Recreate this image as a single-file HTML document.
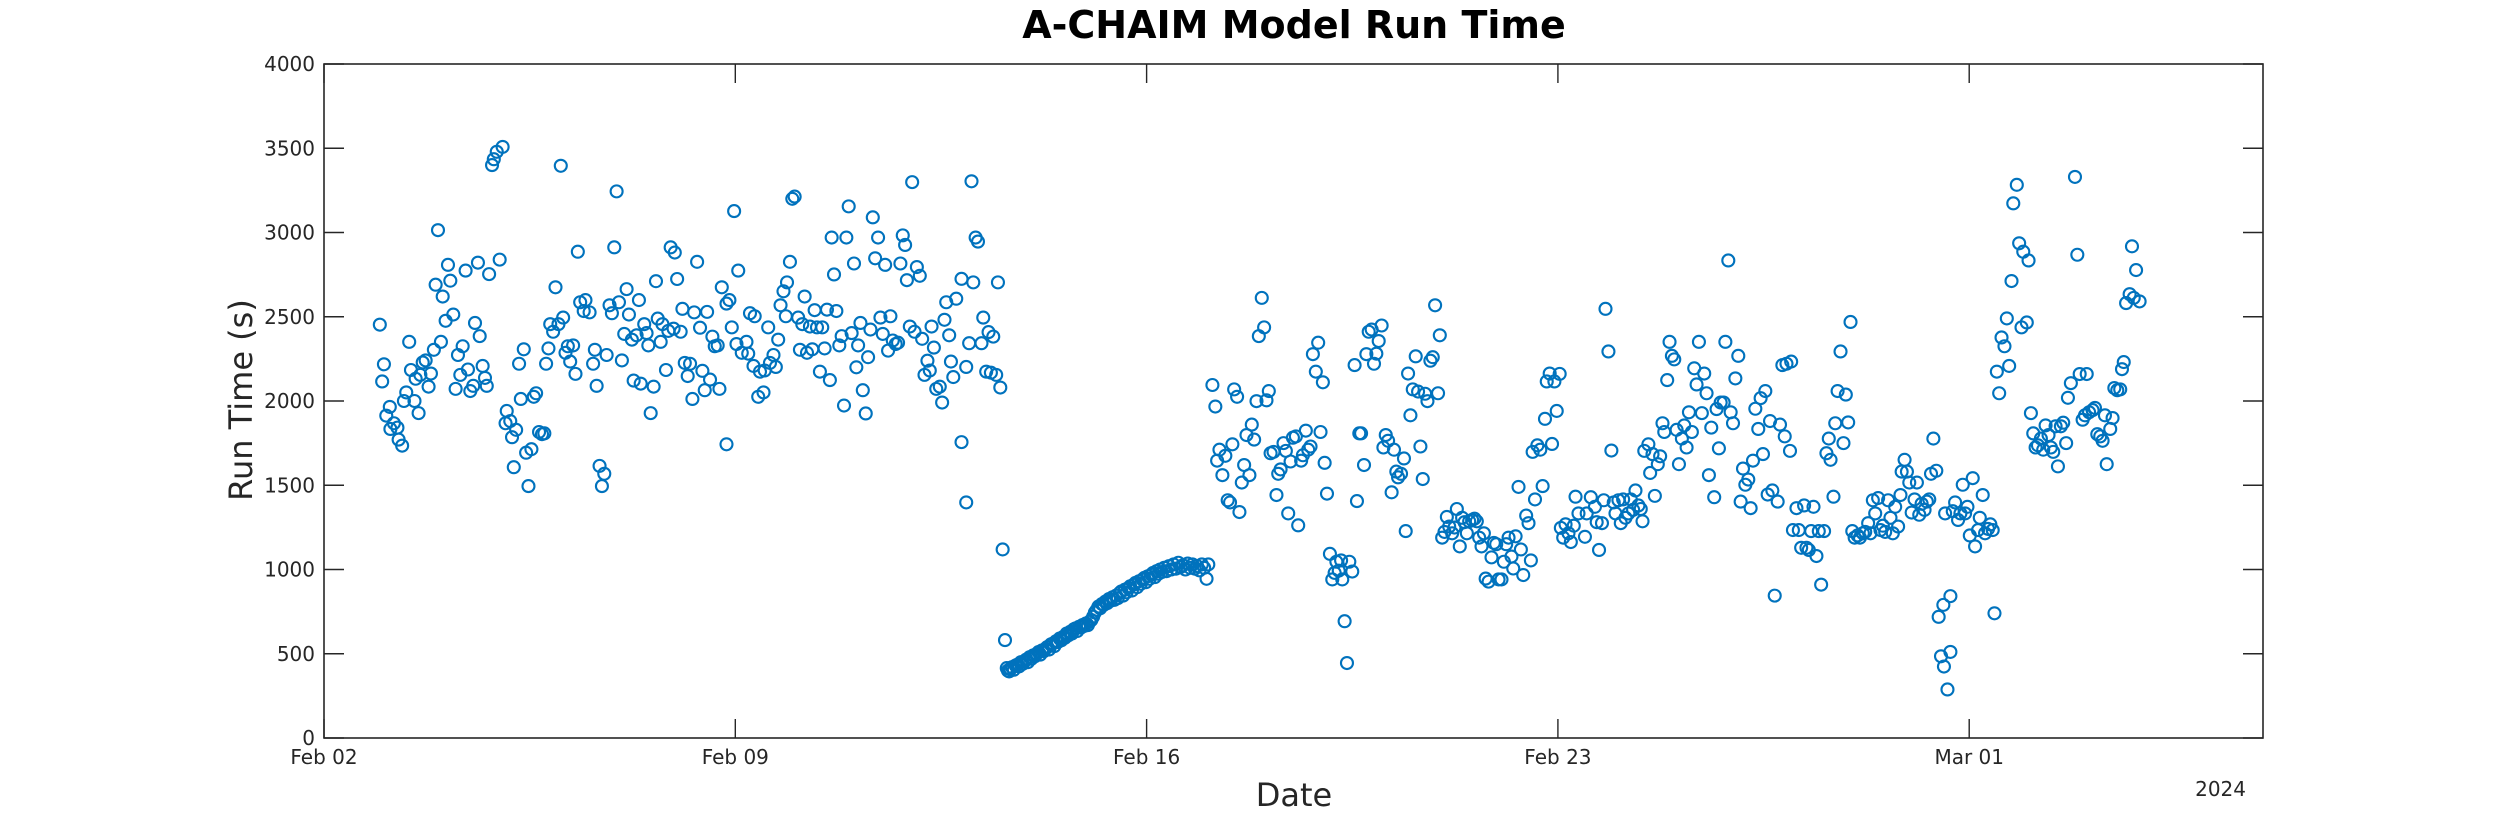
<!DOCTYPE html>
<html><head><meta charset="utf-8"><title>A-CHAIM Model Run Time</title>
<style>
html,body{margin:0;padding:0;background:#fff;}
svg{display:block;font-family:"DejaVu Sans","Liberation Sans",sans-serif;}
</style></head>
<body>
<svg id="chart" width="2500" height="833" viewBox="0 0 2500 833" xmlns="http://www.w3.org/2000/svg">
<rect x="0" y="0" width="2500" height="833" fill="#fff"/>
<text x="1294" y="38" text-anchor="middle" font-size="38" font-weight="bold" fill="#000">A-CHAIM Model Run Time</text>
<g id="axes"></g>
<g id="marks"></g>
<text x="1294" y="806" text-anchor="middle" font-size="32" fill="#262626">Date</text>
<text x="2246" y="796" text-anchor="end" font-size="20" fill="#262626">2024</text>
<text transform="translate(252,400) rotate(-90)" text-anchor="middle" font-size="32" fill="#262626">Run Time (s)</text>
</svg>
<script>
// x values are days since Feb 02 2024; y values are run time in seconds
const xTickDays = [0, 7, 14, 21, 28];
const xTickLabels = ["Feb 02", "Feb 09", "Feb 16", "Feb 23", "Mar 01"];
const yTickValues = [0, 500, 1000, 1500, 2000, 2500, 3000, 3500, 4000];
const yTickLabels = ["0", "500", "1000", "1500", "2000", "2500", "3000", "3500", "4000"];

const clusterA = [[0.95,2453],[1.02,2218],[0.99,2116],[1.12,1965],[1.06,1913],[1.19,1868],[1.13,1834],[1.25,1842],[1.27,1771],[1.33,1735],[1.36,2000],[1.40,2051],[1.45,2351],[1.48,2184],[1.54,2000],[1.61,1928],[1.56,2132],[1.64,2155],[1.68,2229],[1.73,2241],[1.82,2163],[1.78,2085],[1.87,2304],[1.94,3014],[1.90,2690],[1.99,2351],[2.02,2620],[2.07,2476],[2.11,2808],[2.15,2714],[2.20,2513],[2.24,2072],[2.28,2273],[2.32,2155],[2.36,2325],[2.41,2774],[2.45,2187],[2.49,2059],[2.54,2090],[2.57,2463],[2.62,2821],[2.65,2385],[2.70,2208],[2.74,2137],[2.77,2090],[2.81,2753],[2.86,3400],[2.89,3435],[2.94,3479],[3.04,3508],[2.99,2839],[3.09,1868],[3.11,1941],[3.17,1881],[3.20,1785],[3.27,1829],[3.23,1607],[3.32,2221],[3.35,2012],[3.40,2307],[3.44,1693],[3.48,1495],[3.53,1714],[3.57,2025],[3.61,2046],[3.66,1816],[3.71,1803],[3.75,1808],[3.78,2221],[3.82,2312],[3.85,2456],[3.90,2411],[3.94,2675],[3.99,2456],[4.03,3396],[4.07,2495],[4.11,2286],[4.15,2325],[4.19,2234],[4.24,2330],[4.28,2161],[4.32,2886],[4.36,2586],[4.42,2534],[4.45,2599],[4.52,2526],[4.58,2221],[4.61,2304],[4.64,2090],[4.69,1615],[4.77,1568],[4.73,1495],[4.81,2273],[4.86,2568],[4.90,2521],[4.94,2912],[4.98,3244],[5.02,2586],[5.07,2241],[5.11,2398],[5.15,2664],[5.19,2513],[5.24,2364],[5.27,2121],[5.32,2390],[5.36,2599],[5.39,2103],[5.45,2456],[5.49,2403],[5.52,2330],[5.56,1928],[5.61,2085],[5.65,2711],[5.68,2489],[5.73,2351],[5.76,2456],[5.82,2184],[5.86,2416],[5.90,2912],[5.95,2429],[5.97,2881],[6.01,2724],[6.07,2411],[6.10,2547],[6.14,2226],[6.19,2148],[6.23,2221],[6.27,2012],[6.30,2526],[6.35,2826],[6.40,2435],[6.44,2179],[6.48,2064],[6.52,2529],[6.57,2127],[6.61,2382],[6.65,2325],[6.70,2330],[6.73,2072],[6.77,2675],[6.85,1743],[6.85,2578],[6.90,2599],[6.94,2437],[6.98,3127],[7.02,2338],[7.05,2774],[7.11,2286]];

const clusterB = [[7.19,2351],[7.22,2281],[7.25,2521],[7.33,2503],[7.31,2208],[7.39,2025],[7.48,2051],[7.42,2174],[7.50,2181],[7.59,2226],[7.65,2273],[7.69,2202],[7.56,2437],[7.73,2364],[7.77,2568],[7.82,2651],[7.86,2503],[7.88,2704],[7.93,2826],[7.97,3200],[8.01,3213],[8.07,2495],[8.10,2304],[8.14,2456],[8.18,2620],[8.22,2286],[8.27,2442],[8.31,2307],[8.35,2539],[8.39,2437],[8.44,2174],[8.48,2437],[8.52,2312],[8.56,2542],[8.61,2124],[8.64,2970],[8.68,2751],[8.72,2534],[8.77,2330],[8.81,2385],[8.85,1973],[8.89,2970],[8.93,3155],[8.98,2403],[9.02,2816],[9.06,2200],[9.09,2330],[9.13,2463],[9.17,2064],[9.22,1926],[9.26,2260],[9.30,2424],[9.34,3090],[9.38,2847],[9.43,2970],[9.47,2495],[9.51,2398],[9.55,2808],[9.60,2299],[9.64,2503],[9.68,2359],[9.73,2338],[9.77,2346],[9.81,2816],[9.85,2983],[9.89,2926],[9.92,2717],[9.97,2442],[10.01,3299],[10.05,2411],[10.09,2795],[10.14,2743],[10.18,2369],[10.22,2155],[10.27,2239],[10.31,2181],[10.34,2442],[10.38,2317],[10.42,2072],[10.48,2085],[10.52,1991],[10.56,2482],[10.59,2586],[10.64,2390],[10.67,2234],[10.71,2142],[10.76,2607],[10.85,2725],[10.85,1756],[10.93,1398],[10.93,2202],[10.98,2343],[11.02,3304],[11.05,2704],[11.09,2970],[11.13,2946],[11.19,2343],[11.22,2495],[11.27,2174],[11.31,2409],[11.35,2168],[11.39,2382],[11.44,2155],[11.47,2704],[11.51,2080],[11.55,1119],[11.59,581]];

const rampSeries = [[11.62,415],[11.64,400],[11.66,395],[11.68,410],[11.71,420],[11.74,405],[11.77,430],[11.80,435],[11.83,425],[11.86,450],[11.89,440],[11.92,455],[11.95,465],[11.98,450],[12.01,480],[12.04,470],[12.07,490],[12.10,485],[12.13,500],[12.16,510],[12.19,495],[12.22,520],[12.25,515],[12.28,530],[12.31,540],[12.34,525],[12.37,555],[12.40,560],[12.43,545],[12.46,575],[12.49,570],[12.52,590],[12.55,580],[12.58,600],[12.61,595],[12.64,620],[12.67,610],[12.70,630],[12.73,620],[12.76,645],[12.79,650],[12.82,635],[12.85,660],[12.88,655],[12.91,670],[12.94,665],[12.97,680],[13.00,670],[13.03,690],[13.06,700],[13.09,720],[13.12,745],[13.15,760],[13.18,780],[13.21,770],[13.24,795],[13.27,790],[13.30,810],[13.33,800],[13.36,825],[13.39,815],[13.42,835],[13.45,820],[13.48,845],[13.51,830],[13.54,860],[13.57,870],[13.60,845],[13.63,880],[13.66,865],[13.69,890],[13.72,900],[13.75,875],[13.78,910],[13.81,920],[13.84,895],[13.87,930],[13.90,915],[13.93,940],[13.96,950],[13.99,925],[14.02,960],[14.05,945],[14.08,970],[14.11,980],[14.14,955],[14.17,990],[14.20,975],[14.23,1000],[14.26,985],[14.30,1010],[14.34,990],[14.38,1020],[14.42,1000],[14.46,1030],[14.50,1005],[14.54,1040],[14.58,1015],[14.62,1025],[14.66,1000],[14.70,1035],[14.74,1010],[14.78,1030],[14.82,1005],[14.86,1020],[14.90,995],[14.94,1030],[14.98,1010],[15.02,945],[15.05,1030]];

const clusterC = [[15.12,2095],[15.17,1967],[15.20,1646],[15.24,1711],[15.29,1560],[15.34,1675],[15.38,1411],[15.42,1398],[15.46,1743],[15.49,2069],[15.54,2025],[15.58,1341],[15.62,1516],[15.66,1620],[15.70,1798],[15.75,1560],[15.79,1860],[15.83,1771],[15.87,1999],[15.91,2385],[15.96,2612],[16.00,2437],[16.04,2004],[16.08,2059],[16.11,1690],[16.16,1698],[16.21,1442],[16.24,1568],[16.28,1594],[16.33,1750],[16.37,1704],[16.41,1333],[16.45,1641],[16.49,1782],[16.54,1790],[16.58,1262],[16.63,1646],[16.66,1678],[16.71,1824],[16.75,1711],[16.79,1730],[16.83,2278],[16.88,2174],[16.92,2346],[16.96,1816],[17.00,2111],[17.03,1633],[17.07,1450],[17.12,1093],[17.16,941],[17.20,980],[17.23,1046],[17.27,993],[17.31,1054],[17.33,941],[17.37,693],[17.41,445],[17.45,1046],[17.50,988],[17.54,2213],[17.58,1406],[17.62,1808],[17.65,1808],[17.70,1620],[17.74,2278],[17.78,2411],[17.83,2424],[17.87,2221],[17.91,2281],[17.95,2356],[18.00,2448],[18.03,1724],[18.07,1798],[18.11,1764],[18.17,1458],[18.21,1711],[18.25,1581],[18.28,1547],[18.33,1568],[18.38,1659],[18.41,1228],[18.45,2163],[18.49,1915],[18.53,2069],[18.58,2265],[18.62,2056],[18.66,1730],[18.70,1537],[18.74,2043],[18.78,1999],[18.83,2239],[18.87,2260],[18.91,2568],[18.96,2046],[18.99,2390],[19.03,1189],[19.07,1223],[19.11,1312],[19.15,1255],[19.20,1215],[19.24,1249],[19.28,1359],[19.33,1137],[19.37,1307],[19.41,1281],[19.45,1215],[19.49,1286],[19.54,1294],[19.58,1302],[19.62,1286],[19.66,1189],[19.70,1137],[19.74,1215],[19.77,946],[19.82,928],[19.87,1072],[19.91,1158],[19.95,1150],[19.99,941],[20.04,941],[20.08,1046],[20.12,1150],[20.16,1189],[20.21,1077],[20.24,1006],[20.28,1197],[20.33,1490],[20.37,1119],[20.41,967],[20.46,1320],[20.50,1275],[20.54,1054],[20.57,1698],[20.61,1416],[20.65,1737],[20.70,1711],[20.74,1495],[20.78,1894],[20.81,2116],[20.86,2163],[20.90,1745],[20.94,2116],[20.98,1941],[21.03,2161],[21.05,1247],[21.09,1189],[21.13,1268],[21.18,1215],[21.22,1163],[21.27,1260],[21.30,1432],[21.35,1333]];

const clusterD = [[21.46,1194],[21.49,1333],[21.56,1429],[21.63,1372],[21.66,1281],[21.70,1116],[21.75,1275],[21.78,1411],[21.81,2547],[21.86,2294],[21.91,1706],[21.95,1398],[21.98,1333],[22.03,1411],[22.07,1275],[22.11,1416],[22.15,1307],[22.20,1333],[22.24,1416],[22.28,1354],[22.32,1469],[22.37,1380],[22.41,1359],[22.44,1286],[22.47,1704],[22.54,1743],[22.57,1573],[22.61,1685],[22.65,1437],[22.70,1625],[22.74,1672],[22.78,1868],[22.81,1816],[22.86,2124],[22.90,2351],[22.94,2268],[22.98,2247],[23.02,1829],[23.06,1625],[23.11,1777],[23.15,1855],[23.19,1724],[23.23,1933],[23.28,1816],[23.32,2194],[23.36,2098],[23.40,2351],[23.45,1928],[23.49,2163],[23.53,2046],[23.57,1560],[23.61,1842],[23.66,1429],[23.70,1952],[23.74,1719],[23.77,1991],[23.82,1991],[23.85,2351],[23.90,2834],[23.94,1933],[23.98,1868],[24.02,2134],[24.07,2268],[24.11,1403],[24.15,1599],[24.19,1503],[24.24,1534],[24.28,1364],[24.32,1646],[24.36,1954],[24.41,1834],[24.45,2017],[24.49,1685],[24.53,2059],[24.57,1445],[24.61,1881],[24.65,1469],[24.69,845],[24.74,1403],[24.78,1860],[24.82,2213],[24.86,1790],[24.89,2221],[24.95,1704],[24.97,2234],[25.00,1234],[25.06,1364],[25.10,1234],[25.14,1129],[25.19,1380],[25.23,1129],[25.27,1116],[25.31,1228],[25.35,1372],[25.40,1080],[25.44,1228],[25.48,910],[25.53,1228],[25.57,1690],[25.61,1777],[25.64,1651],[25.69,1432],[25.72,1868],[25.76,2059],[25.81,2294],[25.86,1750],[25.90,2038],[25.94,1873],[25.98,2469],[26.01,1228],[26.05,1189],[26.10,1202],[26.14,1189],[26.19,1215],[26.23,1223],[26.28,1275],[26.32,1215],[26.36,1411],[26.40,1333],[26.45,1424],[26.49,1234],[26.53,1260],[26.57,1223],[26.62,1411],[26.66,1307],[26.70,1215],[26.74,1372],[26.79,1255],[26.83,1442],[26.85,1581],[26.90,1651],[26.94,1581],[26.98,1516],[27.02,1338],[27.07,1416],[27.11,1516],[27.15,1325],[27.19,1390],[27.24,1354],[27.28,1403],[27.32,1416],[27.35,1568],[27.39,1777],[27.44,1586],[27.48,719],[27.52,485],[27.56,790],[27.57,424],[27.63,288],[27.68,511],[27.68,842],[27.59,1333],[27.72,1346],[27.76,1398],[27.81,1294],[27.85,1333],[27.89,1503],[27.93,1333],[27.97,1372],[28.01,1202],[28.06,1542],[28.10,1137],[28.15,1234],[28.18,1307],[28.23,1442],[28.27,1215],[28.32,1241],[28.36,1268],[28.40,1234],[28.43,740]];

const clusterE = [[28.47,2174],[28.51,2046],[28.55,2377],[28.60,2325],[28.64,2490],[28.68,2208],[28.72,2712],[28.75,3173],[28.81,3283],[28.85,2936],[28.92,2886],[29.01,2834],[28.89,2437],[28.98,2466],[29.05,1928],[29.09,1808],[29.13,1724],[29.17,1737],[29.22,1777],[29.26,1711],[29.30,1855],[29.35,1798],[29.39,1724],[29.43,1698],[29.47,1850],[29.51,1612],[29.56,1850],[29.60,1871],[29.65,1750],[29.68,2019],[29.73,2106],[29.80,3330],[29.84,2868],[29.88,2160],[29.93,1889],[29.97,1915],[30.00,2160],[30.04,1933],[30.10,1946],[30.14,1959],[30.18,1803],[30.23,1790],[30.27,1764],[30.31,1915],[30.34,1625],[30.40,1834],[30.44,1899],[30.47,2077],[30.52,2064],[30.57,2069],[30.60,2189],[30.63,2231],[30.67,2581],[30.73,2634],[30.77,2918],[30.80,2612],[30.84,2777],[30.90,2591]];

const NS = "http://www.w3.org/2000/svg";
const PL = 324, PR = 2263, PT = 64, PB = 738;
const X_MIN = 0, X_MAX = 33.0, Y_MIN = 0, Y_MAX = 4000;
function xScale(d){ return PL + (d - X_MIN) / (X_MAX - X_MIN) * (PR - PL); }
function yScale(v){ return PB - (v - Y_MIN) / (Y_MAX - Y_MIN) * (PB - PT); }
function mk(tag, attrs){ const e = document.createElementNS(NS, tag); for (const k in attrs) e.setAttribute(k, attrs[k]); return e; }

const axes = document.getElementById('axes');
const box = mk('rect', {x: PL, y: PT, width: PR - PL, height: PB - PT, fill: 'none', stroke: '#262626', 'stroke-width': 1.6});


axes.appendChild(box);

xTickDays.forEach((d, i) => {
  const x = xScale(d);
  const t1 = mk('line', {x1: x, x2: x, y1: PB, y2: PB - 19, stroke: '#262626', 'stroke-width': 1.4});
  
  
  axes.appendChild(t1);
  const t2 = mk('line', {x1: x, x2: x, y1: PT, y2: PT + 19, stroke: '#262626', 'stroke-width': 1.4});
  
  
  axes.appendChild(t2);
  const lab = mk('text', {x: x, y: 764, 'text-anchor': 'middle', 'font-size': 20, fill: '#262626'});
  lab.textContent = xTickLabels[i];
  
  
  axes.appendChild(lab);
});

yTickValues.forEach((v, i) => {
  const y = yScale(v);
  const t1 = mk('line', {x1: PL, x2: PL + 20, y1: y, y2: y, stroke: '#262626', 'stroke-width': 1.4});
  
  
  axes.appendChild(t1);
  const t2 = mk('line', {x1: PR, x2: PR - 20, y1: y, y2: y, stroke: '#262626', 'stroke-width': 1.4});
  
  
  axes.appendChild(t2);
  const lab = mk('text', {x: PL - 9, y: y + 7, 'text-anchor': 'end', 'font-size': 20, fill: '#262626'});
  lab.textContent = yTickLabels[i];
  
  
  axes.appendChild(lab);
});

const marks = document.getElementById('marks');
[clusterA, clusterB, rampSeries, clusterC, clusterD, clusterE].forEach(series => {
  series.forEach(p => {
    const c = mk('circle', {cx: xScale(p[0]), cy: yScale(p[1]), r: 6, fill: 'none', stroke: '#0072BD', 'stroke-width': 2.1});
    
    
    marks.appendChild(c);
  });
});
</script>
</body></html>
